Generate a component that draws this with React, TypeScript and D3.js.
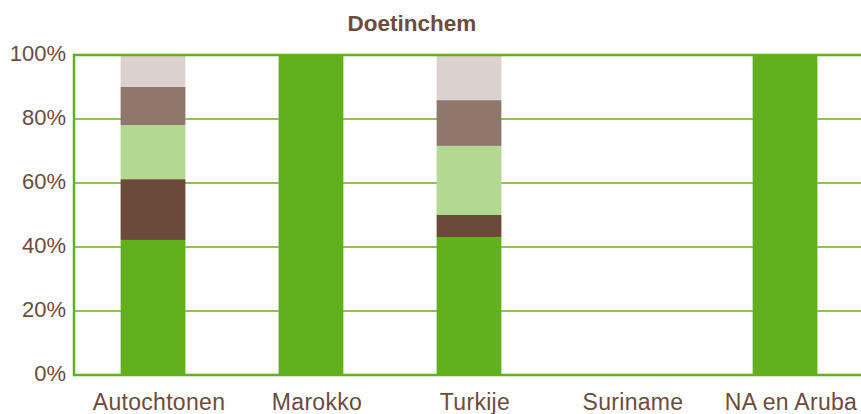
import React, { useEffect, useRef } from 'react';
import * as d3 from 'd3';

const categories = ['Autochtonen', 'Marokko', 'Turkije', 'Suriname', 'NA en Aruba'];

// one array per stacked segment, bottom to top, in percent
const seriesA = [42.2, 100, 43.1, 0, 100];
const seriesB = [19.0, 0, 6.9, 0, 0];
const seriesC = [16.9, 0, 21.6, 0, 0];
const seriesD = [11.9, 0, 14.3, 0, 0];
const seriesE = [10.0, 0, 14.1, 0, 0];

const yTicks = [0, 20, 40, 60, 80, 100];

const COLORS = {
  green: '#63b01f',
  darkBrown: '#6b4a3b',
  lightGreen: '#b2d891',
  midBrown: '#8f786b',
  lightGrey: '#dbd2cf',
  text: '#6b4c3c',
  axis: '#63b01f',
};

const WIDTH = 861;
const HEIGHT = 414;

function drawChart(node: SVGSVGElement | null) {
  if (!node) {
    return;
  }

  const svg = d3.select(node);
  svg.selectAll('*').remove();

  const left = 74;
  const top = 55;
  const bottom = 375;
  const right = 864;

  const seriesList = [seriesA, seriesB, seriesC, seriesD, seriesE];
  const keys = ['a', 'b', 'c', 'd', 'e'];
  const fills = [COLORS.green, COLORS.darkBrown, COLORS.lightGreen, COLORS.midBrown, COLORS.lightGrey];

  const table = categories.map((label, i) => {
    const row: Record<string, number | string> = { label };
    keys.forEach((key, k) => {
      row[key] = seriesList[k][i];
    });
    return row;
  });

  const x = d3.scaleBand<string>()
    .domain(categories)
    .range([left, right])
    .paddingInner(0.59)
    .paddingOuter(0.295);

  const y = d3.scaleLinear().domain([0, 100]).range([bottom, top]);

  // gridlines
  svg.append('g')
    .selectAll('line')
    .data(yTicks.filter((t) => t > 0 && t < 100))
    .join('line')
    .attr('x1', left)
    .attr('x2', WIDTH)
    .attr('y1', (t) => y(t))
    .attr('y2', (t) => y(t))
    .attr('stroke', COLORS.axis)
    .attr('stroke-width', 1.3);

  const stack = d3.stack<Record<string, number | string>>()
    .keys(keys)
    .value((d, key) => d[key] as number);

  svg.append('g')
    .selectAll('g')
    .data(stack(table))
    .join('g')
    .attr('fill', (_, i) => fills[i])
    .selectAll('rect')
    .data((s) => s)
    .join('rect')
    .attr('x', (d) => x(d.data.label as string) as number)
    .attr('width', x.bandwidth())
    .attr('y', (d) => y(d[1]))
    .attr('height', (d) => y(d[0]) - y(d[1]));

  // frame: top, left, bottom
  svg.append('line')
    .attr('x1', left).attr('x2', WIDTH)
    .attr('y1', y(100)).attr('y2', y(100))
    .attr('stroke', COLORS.axis).attr('stroke-width', 2.5);

  svg.append('line')
    .attr('x1', left).attr('x2', left)
    .attr('y1', y(100) - 1.25).attr('y2', y(0) + 1.25)
    .attr('stroke', COLORS.axis).attr('stroke-width', 2.5);

  svg.append('line')
    .attr('x1', left).attr('x2', WIDTH)
    .attr('y1', y(0)).attr('y2', y(0))
    .attr('stroke', COLORS.axis).attr('stroke-width', 2.5);

  // y tick labels
  svg.append('g')
    .selectAll('text')
    .data(yTicks)
    .join('text')
    .attr('x', 66)
    .attr('y', (t) => y(t))
    .attr('dy', '0.28em')
    .attr('text-anchor', 'end')
    .attr('fill', COLORS.text)
    .attr('font-size', 22)
    .text((t) => `${t}%`);

  // x labels
  svg.append('g')
    .selectAll('text')
    .data(categories)
    .join('text')
    .attr('x', (c) => (x(c) as number) + x.bandwidth() / 2 + 6)
    .attr('y', 410)
    .attr('text-anchor', 'middle')
    .attr('fill', COLORS.text)
    .attr('font-size', 23)
    .attr('letter-spacing', 0.3)
    .text((c) => c);

  svg.append('text')
    .attr('x', 412)
    .attr('y', 31)
    .attr('text-anchor', 'middle')
    .attr('fill', COLORS.text)
    .attr('font-size', 22.5)
    .attr('font-weight', 700)
    .text('Doetinchem');
}

export default function App() {
  const ref = useRef<SVGSVGElement>(null);

  useEffect(() => {
    drawChart(ref.current);
  }, []);

  return (
    <svg
      ref={ref}
      width={WIDTH}
      height={HEIGHT}
      style={{ position: 'absolute', left: 0, top: 0, fontFamily: '"Liberation Sans", Arial, sans-serif', background: '#fff' }}
    />
  );
}
